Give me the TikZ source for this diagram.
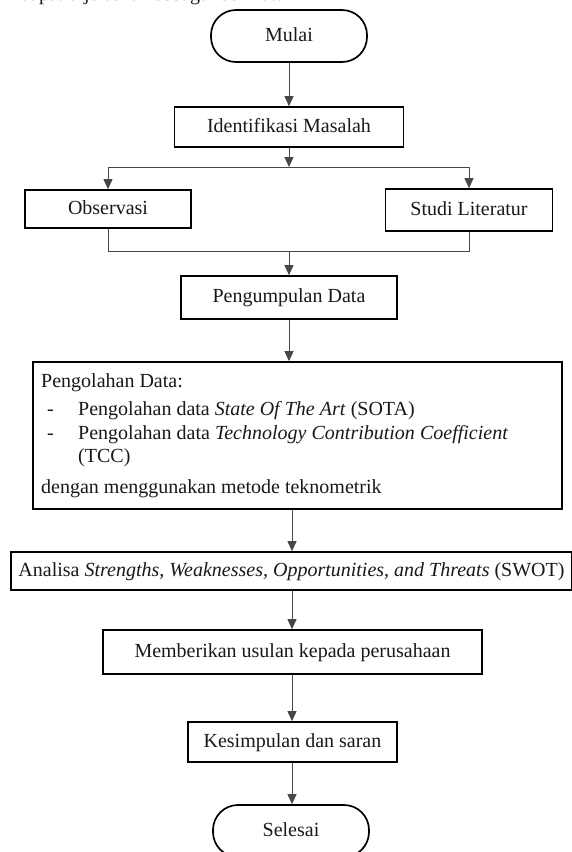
\documentclass[tikz,border=0pt]{standalone}
\usepackage{fontspec}
\setmainfont{Liberation Serif}
\usetikzlibrary{arrows.meta,calc}
\tikzset{
  boxnode/.style={draw=black, line width=1.7pt, text=black!90,
    font=\fontsize{20}{24}\selectfont, text height=14pt, text depth=4pt,
    inner sep=0pt, align=center},
  termnode/.style={boxnode, rounded corners=25pt},
  txtnode/.style={text=black!90, font=\fontsize{20}{24}\selectfont,
    text height=14pt, text depth=4pt, inner sep=0pt},
  conn/.style={draw=black!72, line width=0.9pt},
  arr/.style={conn, -{Triangle[length=10pt,width=9pt]}}
}
\begin{document}
\begin{tikzpicture}[x=1pt,y=-1pt]
\clip (0,0) rectangle (572,852);
\fill[white] (0,0) rectangle (572,852);

\node[txtnode, anchor=base west, text height=, text depth=] (toptext) at (20,0.8) {dapat dijelaskan sebagai berikut:};

\node[termnode, minimum width=156pt, minimum height=52pt] (mulai) at (289,36) {Mulai};
\node[boxnode, minimum width=229pt, minimum height=40pt] (ident) at (289,127) {Identifikasi Masalah};
\node[boxnode, minimum width=166pt, minimum height=38pt] (obs) at (108,209) {Observasi};
\node[boxnode, minimum width=167pt, minimum height=42pt] (studi) at (469,210) {Studi Literatur};
\node[boxnode, minimum width=216pt, minimum height=43pt] (peng) at (289,297.5) {Pengumpulan Data};
\node[boxnode, minimum width=529pt, minimum height=147pt] (olah) at (297.5,435.5) {};
\node[boxnode, minimum width=561pt, minimum height=38pt] (swot) at (291.5,571) {Analisa \textit{Strengths, Weaknesses, Opportunities, and Threats} (SWOT)};
\node[boxnode, minimum width=379pt, minimum height=44pt] (beri) at (292.5,652) {Memberikan usulan kepada perusahaan};
\node[boxnode, minimum width=209pt, minimum height=40pt] (kesi) at (292.5,742) {Kesimpulan dan saran};
\node[termnode, minimum width=156pt, minimum height=52pt] (selesai) at (291,831) {Selesai};

% text inside Pengolahan box
\node[txtnode, anchor=west] (o1) at (41,382) {Pengolahan Data:};
\node[txtnode, anchor=west] (d1) at (47,410) {-};
\node[txtnode, anchor=west] (o2) at (78,410) {Pengolahan data \textit{State Of The Art} (SOTA)};
\node[txtnode, anchor=west] (d2) at (47,434) {-};
\node[txtnode, anchor=west] (o3) at (78,434) {\makebox[430pt][s]{Pengolahan data \textit{Technology Contribution Coefficient}}};
\node[txtnode, anchor=west] (o4) at (78,457) {(TCC)};
\node[txtnode, anchor=west] (o5) at (41,488) {dengan menggunakan metode teknometrik};

% connectors
\coordinate (split) at (289,167);
\coordinate (merge) at (289,251);
\coordinate (ax) at (292,0);

\draw[arr] (mulai.south) -- (mulai.south |- ident.north);
\draw[arr] (ident.south) -- (split);
\draw[conn] (obs.north |- split) -- (studi.north |- split);
\draw[arr] (obs.north |- split) -- (obs.north);
\draw[arr] (studi.north |- split) -- (studi.north);
\draw[conn] (obs.south) -- (obs.south |- merge) -- (studi.south |- merge) -- (studi.south);
\draw[arr] (merge) -- (peng.north);
\draw[arr] (peng.south) -- (peng.south |- olah.north);
\draw[arr] (olah.south -| ax) -- (swot.north -| ax);
\draw[arr] (swot.south -| ax) -- (beri.north -| ax);
\draw[arr] (beri.south -| ax) -- (kesi.north -| ax);
\draw[arr] (kesi.south -| ax) -- (selesai.north -| ax);
\end{tikzpicture}
\end{document}
